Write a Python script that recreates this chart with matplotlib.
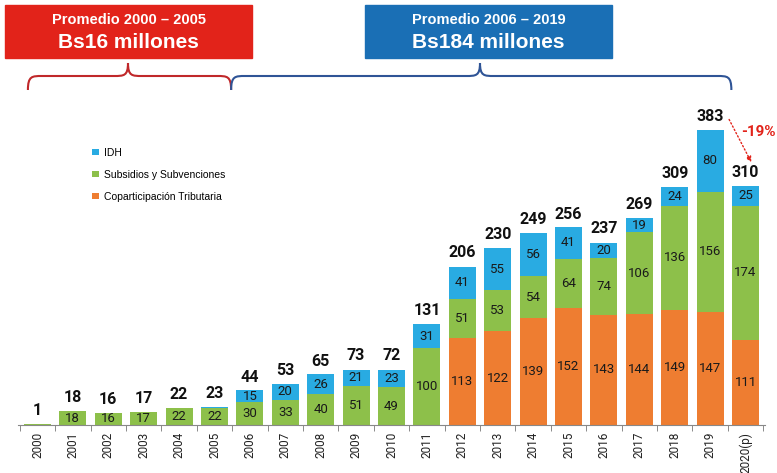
import numpy as np
import matplotlib.pyplot as plt
from matplotlib.path import Path
from matplotlib.patches import PathPatch, Rectangle

# datos (millones de Bs)
years = ['2000', '2001', '2002', '2003', '2004', '2005', '2006', '2007', '2008', '2009',
         '2010', '2011', '2012', '2013', '2014', '2015', '2016', '2017', '2018', '2019', '2020(p)']
copart = [0, 0, 0, 0, 0, 0, 0, 0, 0, 0, 0, 0, 113, 122, 139, 152, 143, 144, 149, 147, 111]
subsid = [1, 18, 16, 17, 22, 22, 30, 33, 40, 51, 49, 100, 51, 53, 54, 64, 74, 106, 136, 156, 174]
idh = [0, 0, 0, 0, 0, 1, 15, 20, 26, 21, 23, 31, 41, 55, 56, 41, 20, 19, 24, 80, 25]
totals = [1, 18, 16, 17, 22, 23, 44, 53, 65, 73, 72, 131, 206, 230, 249, 256, 237, 269, 309, 383, 310]

c_orange = '#ee7d31'
c_green = '#8dc04a'
c_blue = '#29abe2'
c_red = '#e2231a'
c_dblue = '#1a6fb5'

plt.rcParams['font.family'] = ['Roboto', 'DejaVu Sans']

fig = plt.figure(figsize=(7.77, 4.73), dpi=100)
ax = fig.add_axes([18/777, 48/473, 747/777, 365/473])

x = np.arange(len(years))
w = 0.76
copart = np.array(copart)
subsid = np.array(subsid)
idh = np.array(idh)

b1 = ax.bar(x, copart, w, color=c_orange, label='Coparticipación Tributaria')
b2 = ax.bar(x, subsid, w, bottom=copart, color=c_green, label='Subsidios y Subvenciones')
b3 = ax.bar(x, idh, w, bottom=copart + subsid, color=c_blue, label='IDH')

# etiquetas dentro de las barras
for vals, bottoms in [(copart, np.zeros(len(x))), (subsid, copart), (idh, copart + subsid)]:
    for i in range(len(x)):
        if vals[i] >= 10:
            ax.text(x[i], bottoms[i] + vals[i] / 2, str(vals[i]), ha='center', va='center',
                    fontsize=9.5, color='#1a1a1a')

# totales
for i in range(len(x)):
    ax.text(x[i], totals[i] + 8, str(totals[i]), ha='center', va='bottom',
            fontsize=11.5, fontweight='bold', color='#111111')

ax.set_xlim(-0.55, len(x) - 0.45)
ax.set_ylim(0, 474)
ax.set_xticks(x)
ax.set_xticklabels(years, rotation=90, fontsize=8.5, color='#222222')
ax.set_xticks(np.arange(-0.5, len(x), 1), minor=True)
ax.tick_params(axis='x', which='major', length=0, pad=5)
ax.tick_params(axis='x', which='minor', length=4, color='#777777')
ax.set_yticks([])
for s in ['top', 'right', 'left']:
    ax.spines[s].set_visible(False)
ax.spines['bottom'].set_color('#888888')

handles = [b3, b2, b1]
ax.legend(handles, [h.get_label() for h in handles], loc='upper left',
          bbox_to_anchor=(0.087, 0.785), frameon=False,
          prop={'family': 'Liberation Sans', 'size': 7.5},
          handlelength=0.6, handleheight=0.6, handletextpad=0.5, labelspacing=1.15)

# flecha -19%
ax.annotate('', xy=(20.2, 338), xytext=(19.5, 400),
            arrowprops=dict(arrowstyle='-|>', color=c_red, linestyle=':', lw=1,
                            mutation_scale=8), annotation_clip=False)

# capa superior en pixeles para cuadros y llaves
ov = fig.add_axes([0, 0, 1, 1])
ov.set_xlim(0, 777)
ov.set_ylim(473, 0)
ov.axis('off')
ov.patch.set_alpha(0)

ov.text(776, 132, '-19%', color=c_red, fontsize=11, fontweight='bold',
        ha='right', va='center')


def px(xd):
    return ax.transData.transform((xd, 0))[0]


def brace(x0, x1, xa, color, yb=90, ym=76, yt=63, r=14):
    verts = [(x0, yb), (x0, ym), (x0 + r * 0.3, ym), (x0 + r, ym),
             (xa - r, ym),
             (xa - r * 0.3, ym), (xa, ym), (xa, yt),
             (xa, ym), (xa + r * 0.3, ym), (xa + r, ym),
             (x1 - r, ym),
             (x1 - r * 0.3, ym), (x1, ym), (x1, yb)]
    codes = [Path.MOVETO, Path.CURVE4, Path.CURVE4, Path.CURVE4,
             Path.LINETO,
             Path.CURVE4, Path.CURVE4, Path.CURVE4,
             Path.CURVE4, Path.CURVE4, Path.CURVE4,
             Path.LINETO,
             Path.CURVE4, Path.CURVE4, Path.CURVE4]
    ov.add_patch(PathPatch(Path(verts, codes), fc='none', ec=color, lw=1.5))


brace(px(-0.27), px(5.47), 128, '#c0282a')
brace(px(5.47), px(19.6), 480, '#2f5496')

ov.add_patch(Rectangle((5, 5), 247, 53, color=c_red))
ov.add_patch(Rectangle((365, 5), 247, 53, color=c_dblue))
for cx, l1, l2 in [(128.5, 'Promedio 2000 – 2005', 'Bs16 millones'),
                   (488.5, 'Promedio 2006 – 2019', 'Bs184 millones')]:
    ov.text(cx, 20, l1, ha='center', va='center', color='white', fontsize=10.5,
            fontweight='bold', family='Liberation Sans')
    ov.text(cx, 43, l2, ha='center', va='center', color='white', fontsize=15,
            fontweight='bold', family='Liberation Sans')

fig.savefig('out.png', dpi=100)
